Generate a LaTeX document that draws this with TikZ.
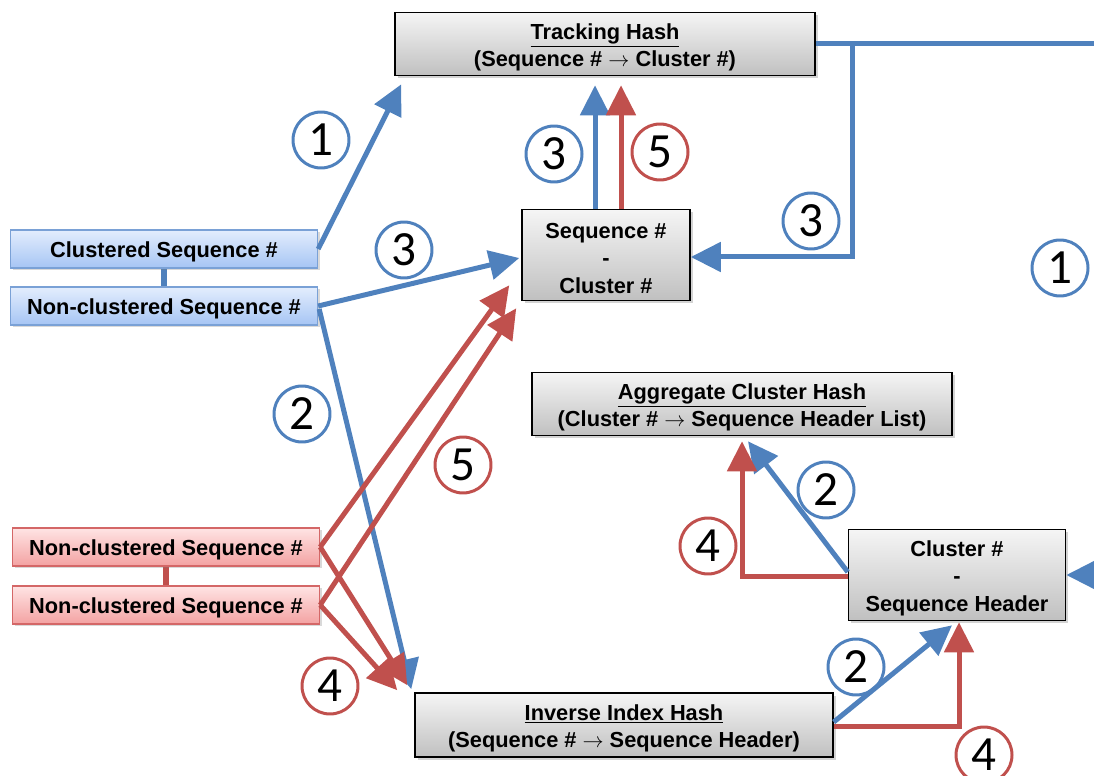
\documentclass[tikz,border=0pt]{standalone}
\usepackage{fontspec}
\setmainfont{Liberation Sans}
\newfontfamily\numfont{Carlito}
\usepackage{tikz}
\usetikzlibrary{arrows.meta,shadows,calc}

\definecolor{lineblue}{HTML}{4F81BD}
\definecolor{linered}{HTML}{C0504D}
\definecolor{hashtop}{HTML}{F5F5F5}
\definecolor{hashbot}{HTML}{C0C0C0}
\definecolor{bluetop}{HTML}{E3EDFD}
\definecolor{bluebot}{HTML}{A6C5F4}
\definecolor{blueedge}{HTML}{7AA1D6}
\definecolor{redtop}{HTML}{FFE4E4}
\definecolor{redbot}{HTML}{F3A2A2}
\definecolor{rededge}{HTML}{D46767}

\newcommand\hashfont{\fontsize{12.4}{15.6}\selectfont\bfseries}
\newcommand\stepfont{\numfont\fontsize{28}{30}\selectfont}
\newcommand\hashstrut{\rule{0pt}{12.6pt}}

\tikzset{
  hashbox/.style={draw=black, line width=0.9pt, top color=hashtop, bottom color=hashbot,
    drop shadow={shadow xshift=1.5pt, shadow yshift=-1.5pt, opacity=0.35},
    align=center, font=\hashfont, inner sep=0pt},
  seqbox/.style={line width=0.8pt, align=center, font=\hashfont, inner sep=0pt,
    minimum width=6.14cm, minimum height=0.76cm,
    drop shadow={shadow xshift=1.2pt, shadow yshift=-1.2pt, opacity=0.3},
    execute at begin node={\hashstrut}},
  blueseq/.style={seqbox, draw=blueedge, top color=bluetop, bottom color=bluebot},
  redseq/.style={seqbox, draw=rededge, top color=redtop, bottom color=redbot},
  blueline/.style={draw=lineblue, line width=0.1cm},
  redline/.style={draw=linered, line width=0.1cm},
  bluearrow/.style={blueline, -{Triangle[width=0.58cm,length=0.6cm]}},
  redarrow/.style={redline, -{Triangle[width=0.58cm,length=0.6cm]}},
  bluestep/.style={circle, draw=lineblue, line width=1.7pt, minimum size=1.12cm,
    inner sep=0pt, font=\stepfont},
  redstep/.style={bluestep, draw=linered}
}

\begin{document}
\begin{tikzpicture}[x=0.02cm, y=-0.02cm]
  \useasboundingbox (0,0) rectangle (1094,776);
  \clip (0,0) rectangle (1094,776);

  % hash tables
  \node[hashbox, minimum width=8.4cm, minimum height=1.26cm] (track) at (605,44)
    {\hashstrut\underline{Tracking Hash}\\(Sequence \# $\rightarrow$ Cluster \#)};
  \node[hashbox, minimum width=3.36cm, minimum height=1.82cm] (seqclu) at (606,255)
    {\hashstrut Sequence \#\\-\\Cluster \#};
  \node[hashbox, minimum width=8.4cm, minimum height=1.26cm] (aggr) at (742,404)
    {\hashstrut\underline{Aggregate Cluster Hash}\\(Cluster \# $\rightarrow$ Sequence Header List)};
  \node[hashbox, minimum width=4.34cm, minimum height=1.82cm] (clushdr) at (957,575)
    {\hashstrut Cluster \#\\-\\Sequence Header};
  \node[hashbox, minimum width=8.36cm, minimum height=1.28cm] (inv) at (624,725)
    {\hashstrut\underline{Inverse Index Hash}\\(Sequence \# $\rightarrow$ Sequence Header)};

  % incoming sequences
  \draw[blueline, line width=0.13cm] (164,260) -- (164,295);
  \draw[redline, line width=0.13cm] (166,556) -- (166,596);
  \node[blueseq] (clus) at (164,249) {Clustered Sequence \#};
  \node[blueseq] (nonclus) at (164,306) {Non-clustered Sequence \#};
  \node[redseq] (red1) at (166,547) {Non-clustered Sequence \#};
  \node[redseq] (red2) at (166,605) {Non-clustered Sequence \#};

  % blue steps
  \coordinate (split) at (852,44);
  \coordinate (offtrack) at (1110,44);
  \coordinate (offhdr) at (1120,575);
  \draw[bluearrow] (clus.east) -- ([shift={(7,8)}]track.south west);
  \draw[bluearrow] (nonclus.east) -- ([shift={(-2,3)}]seqclu.west);
  \draw[bluearrow] ([shift={(1,3)}]nonclus.east) -- ([shift={(-3,-3)}]inv.north west);
  \draw[bluearrow] ([shift={(-11,0)}]seqclu.north) -- ([shift={(-10,9)}]track.south);
  \draw[blueline] (track.east) -- (offtrack);
  \draw[bluearrow] (split) |- ([shift={(0,2)}]seqclu.east);
  \draw[bluearrow] ([shift={(0,-3)}]inv.east) -- ([shift={(-5,4)}]clushdr.south);
  \draw[bluearrow] ([shift={(0,-3)}]clushdr.west) -- ([shift={(6,5)}]aggr.south);
  \draw[bluearrow] (offhdr) -- (clushdr.east);

  % red steps
  \draw[redarrow] ([shift={(15,0)}]seqclu.north) -- ([shift={(16,9)}]track.south);
  \draw[redarrow] (red1.east) -- ([shift={(-12,-16)}]seqclu.south west);
  \draw[redarrow] (red2.east) -- ([shift={(-5,7)}]seqclu.south west);
  \draw[redarrow] (red1.east) -- ([shift={(-7,-7)}]inv.north west);
  \draw[redarrow] (red2.east) -- ([shift={(-17,-2)}]inv.north west);
  \draw[redarrow] ([shift={(0,1)}]inv.east) -| ([shift={(2,1)}]clushdr.south);
  \draw[redarrow] ([shift={(0,1)}]clushdr.west) -| ([shift={(0,5)}]aggr.south);

  % step numbers
  \node[bluestep] (n1a) at (321,140) {1};
  \node[bluestep] (n1b) at (1060,268) {1};
  \node[bluestep] (n2a) at (302,414) {2};
  \node[bluestep] (n2b) at (826,490) {2};
  \node[bluestep] (n2c) at (856,667) {2};
  \node[bluestep] (n3a) at (404,250) {3};
  \node[bluestep] (n3b) at (554,154) {3};
  \node[bluestep] (n3c) at (811,221) {3};
  \node[redstep] (n4a) at (330,686) {4};
  \node[redstep] (n4b) at (708,546) {4};
  \node[redstep] (n4c) at (984,755) {4};
  \node[redstep] (n5a) at (660,152) {5};
  \node[redstep] (n5b) at (463,465) {5};
\end{tikzpicture}
\end{document}
